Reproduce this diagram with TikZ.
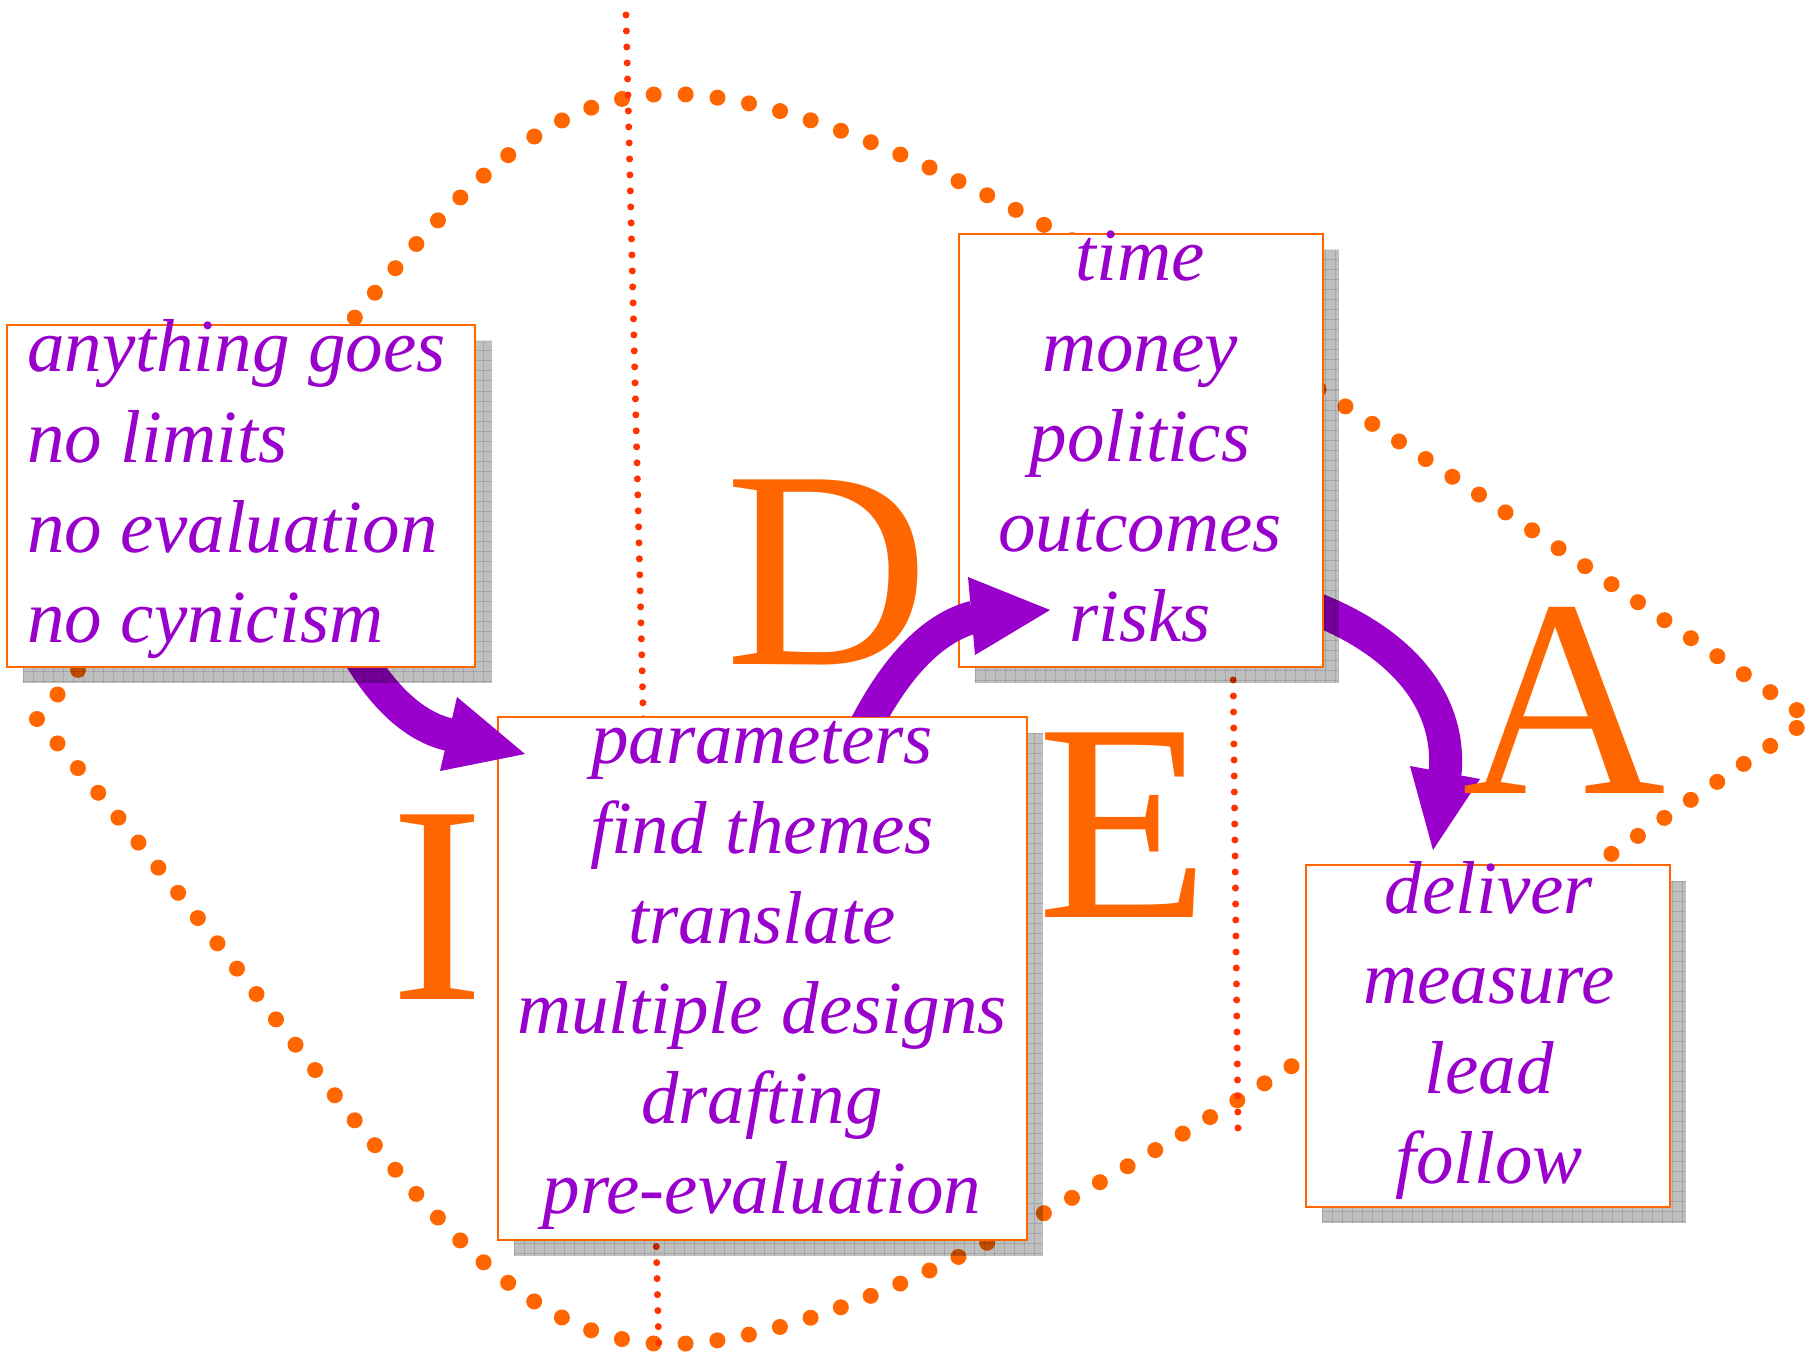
\documentclass[tikz,border=0pt]{standalone}
\usepackage{fontspec}
\setmainfont{Liberation Serif}
\definecolor{ora}{HTML}{FF6600}
\definecolor{redd}{HTML}{FF3300}
\definecolor{purp}{HTML}{9900CC}
\tikzset{
  boxst/.style={draw=ora, line width=2.5pt, fill=white, inner sep=0pt, outer sep=0pt, anchor=north west},
  txt/.style={text=purp, font=\itshape\fontsize{75}{90}\selectfont, inner sep=0pt},
  bigl/.style={text=ora, font=\fontsize{282}{282}\selectfont, inner sep=0pt, anchor=base, text depth=0pt, text height=190pt},
  bigdots/.style={draw=ora, line width=16pt, line cap=round, dash pattern=on 0pt off 32pt},
  reddots/.style={draw=redd, line width=7pt, line cap=round, dash pattern=on 0pt off 16pt},
  shaft/.style={draw=purp, line width=33pt},
  head/.style={fill=purp},
  shfill/.style={fill=black, fill opacity=0.25},
  shgrid/.style={draw=black, draw opacity=0.12, line width=1pt},
}
\newcommand\dropshadow[4]{%
  \begin{scope}
    \clip (#1,#2) rectangle (#3,#4);
    \fill[shfill] (#1,#2) rectangle (#3,#4);
    \foreach \k in {0,10,...,540}{%
      \draw[shgrid] (#1+\k,#2) -- (#1+\k,#4);
      \draw[shgrid] (#1,#2+\k) -- (#3,#2+\k);
    }
  \end{scope}}
\begin{document}
\begin{tikzpicture}[x=1pt,y=-1pt]
\useasboundingbox (0,0) rectangle (1808,1356);
\fill[white] (0,0) rectangle (1808,1356);
% big dotted lens
\coordinate (lensL) at (37,719);
\coordinate (lensT) at (670,94);
\coordinate (lensR) at (1810,719);
\coordinate (lensB) at (670,1344);
\draw[bigdots] (lensL) .. controls (360,337) and (470,94) .. (lensT)
  .. controls (920,94) and (1395.5,439.5) .. (lensR)
  .. controls (1395.5,998.5) and (920,1344) .. (lensB)
  .. controls (470,1344) and (360,1101) .. (lensL);
% red dotted dividers
\coordinate (v1a) at (626,15);
\coordinate (v1b) at (659,1356);
\coordinate (v2a) at (1233,664);
\coordinate (v2b) at (1238,1128);
\draw[reddots] (v1a) -- (v1b);
\draw[reddots] (v2a) -- (v2b);
% box 2
\dropshadow{514}{733}{1043}{1256}
\node[boxst, minimum width=529pt, minimum height=523pt] (box2) at (498,717) {};
% arrow 1
\coordinate (a1s) at (350,640);
\coordinate (a1e) at (451,735);
\coordinate (a1t) at (525,754);
\coordinate (a1p) at (457,697);
\coordinate (a1q) at (440,771);
\draw[shaft] (a1s) .. controls (378,692) and (412,727) .. (a1e);
\fill[head] (a1t) -- (a1p) -- (a1q) -- cycle;
% box 1
\dropshadow{23}{341}{492}{683}
\node[boxst, minimum width=468pt, minimum height=342pt] (box1) at (7,325) {};
% arrow 3
\coordinate (a3s) at (1300,603);
\coordinate (a3e) at (1445,774);
\coordinate (a3t) at (1433,850);
\coordinate (a3p) at (1410,766);
\coordinate (a3q) at (1480,779);
\draw[shaft] (a3s) .. controls (1400,638) and (1452,700) .. (a3e);
\fill[head] (a3t) -- (a3p) -- (a3q) -- cycle;
% box 3
\dropshadow{975}{250}{1339}{683}
\node[boxst, minimum width=364pt, minimum height=433pt] (box3) at (959,234) {};
% arrow 2
\coordinate (a2s) at (860,737);
\coordinate (a2e) at (974,617);
\coordinate (a2t) at (1050,610);
\coordinate (a2p) at (968,577);
\coordinate (a2q) at (975,655);
\begin{scope}
  \clip (0,0) rectangle (1808,716);
  \draw[shaft] (a2s) .. controls (888,680) and (925,630) .. (a2e);
\end{scope}
\fill[head] (a2t) -- (a2p) -- (a2q) -- cycle;
% box 4
\dropshadow{1322}{881}{1686}{1223}
\node[boxst, minimum width=364pt, minimum height=342pt] (box4) at (1306,865) {};
% texts box 1
\node[txt, anchor=base west] (t11) at (27,372) {anything goes};
\node[txt, anchor=base west] (t12) at (27,462) {no limits};
\node[txt, anchor=base west] (t13) at (27,552) {no evaluation};
\node[txt, anchor=base west] (t14) at (27,642) {no cynicism};
% texts box 2
\node[txt, anchor=base] (t21) at (762,763) {parameters};
\node[txt, anchor=base] (t22) at (762,853) {find themes};
\node[txt, anchor=base] (t23) at (762,943) {translate};
\node[txt, anchor=base] (t24) at (762,1033) {multiple designs};
\node[txt, anchor=base] (t25) at (762,1123) {drafting};
\node[txt, anchor=base] (t26) at (762,1213) {pre-evaluation};
% texts box 3
\node[txt, anchor=base] (t31) at (1140,281) {time};
\node[txt, anchor=base] (t32) at (1140,371) {money};
\node[txt, anchor=base] (t33) at (1140,461) {politics};
\node[txt, anchor=base] (t34) at (1140,551) {outcomes};
\node[txt, anchor=base] (t35) at (1140,641) {risks};
% texts box 4
\node[txt, anchor=base] (t41) at (1489,913) {deliver};
\node[txt, anchor=base] (t42) at (1489,1003) {measure};
\node[txt, anchor=base] (t43) at (1489,1093) {lead};
\node[txt, anchor=base] (t44) at (1489,1183) {follow};
% big letters
\node[bigl] (LI) at (437.5,999) {I};
\node[bigl] (LD) at (827,664) {D};
\node[bigl] (LE) at (1123.5,917) {E};
\node[bigl] (LA) at (1564.5,793) {A};
\end{tikzpicture}
\end{document}
